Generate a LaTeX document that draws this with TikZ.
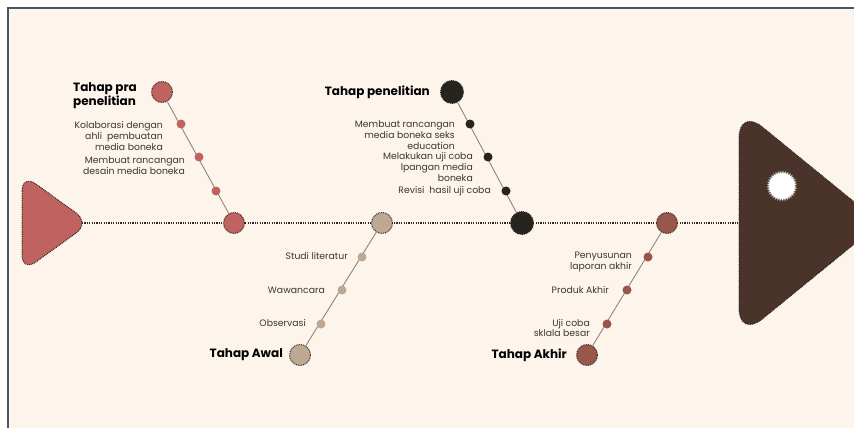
\documentclass[tikz,border=0pt]{standalone}
\usepackage{fontspec}
\setmainfont{Poppins}
\usetikzlibrary{decorations.pathmorphing}
\definecolor{bg}{HTML}{FDF5EC}
\definecolor{frame}{HTML}{4A5568}
\definecolor{cRed}{HTML}{C0625F}
\definecolor{cTan}{HTML}{BFA891}
\definecolor{cBlk}{HTML}{27231F}
\definecolor{cBrn}{HTML}{99564A}
\definecolor{cHead}{HTML}{4A3429}
\definecolor{outl}{HTML}{2B2520}
\definecolor{txt}{HTML}{3A3633}
\definecolor{branch}{HTML}{8C8680}
\tikzset{
  dotline/.style={draw=outl, line width=1pt, dash pattern=on 0.9pt off 0.9pt},
  bigdot/.style={circle, minimum size=#1, inner sep=0pt, dotline},
  smalldot/.style={circle, minimum size=9pt, inner sep=0pt, draw=none},
  lbl/.style={font=\fontsize{9.3}{10.8}\selectfont, text=txt, align=right, inner sep=0pt, anchor=east},
  title/.style={font=\fontsize{12}{12.5}\selectfont\bfseries, text=black, align=left, inner sep=0pt, anchor=east},
  branchline/.style={draw=branch, line width=0.9pt},
}
\begin{document}
\begin{tikzpicture}[x=1pt,y=-1pt]
\useasboundingbox (0,0) rectangle (854,428);
\fill[white] (0,0) rectangle (854,428);
\fill[bg] (8,8) rectangle (854,428);
\draw[frame, line width=2pt] (8,428) -- (8,8.5) -- (854,8.5);

% head and tail
\path[fill=cRed, dotline, rounded corners=17pt] (22,174) -- (22,272) -- (90,223) -- cycle;
\coordinate (tailtip) at (82,223);
\begin{scope}
\clip (0,0) rectangle (854,428);
\path[fill=cHead, dotline, rounded corners=30pt] (739,108) -- (739,338) -- (880,223) -- cycle;
\end{scope}
\coordinate (headl) at (739,223);
\path[fill=white, draw=branch, line width=0.5pt, decorate, decoration={zigzag, segment length=2.4pt, amplitude=1pt}] (782,186) circle (14pt);

% spine
\draw[draw=outl, line width=1.3pt, dash pattern=on 1.2pt off 1.2pt] (tailtip) -- (headl);

% ---- red branch
\node[bigdot=21pt, fill=cRed] (r0) at (234,223) {};
\node[bigdot=21pt, fill=cRed] (r4) at (162,92) {};
\draw[branchline] (r4) -- (r0);
\node[smalldot, fill=cRed] (r1) at (181,124) {};
\node[smalldot, fill=cRed] (r2) at (199,157) {};
\node[smalldot, fill=cRed] (r3) at (216,191) {};
\node[title] (rt) at (137,96) {Tahap pra\\penelitian};
\node[lbl] (rl1) at (163,136) {Kolaborasi dengan\\ahli\ \ pembuatan\\media boneka};
\node[lbl] (rl2) at (185,166) {Membuat rancangan\\desain media boneka};

% ---- black branch
\node[bigdot=23pt, fill=cBlk] (k0) at (522,223) {};
\node[bigdot=23pt, fill=cBlk] (k4) at (452,92) {};
\draw[branchline] (k4) -- (k0);
\node[smalldot, fill=cBlk] (k1) at (470,124) {};
\node[smalldot, fill=cBlk] (k2) at (488,157) {};
\node[smalldot, fill=cBlk] (k3) at (506,191) {};
\node[title] (kt) at (430,92) {Tahap penelitian};
\node[lbl] (kl1) at (455,135) {Membuat rancangan\\media boneka seks\\education};
\node[lbl] (kl2) at (473,167) {Melakukan uji coba\\lpangan media\\boneka};
\node[lbl] (kl3) at (491,191) {Revisi\ \ hasil uji coba};

% ---- tan branch
\node[bigdot=21pt, fill=cTan] (t0) at (382,223) {};
\node[bigdot=21pt, fill=cTan] (t4) at (300,355) {};
\draw[branchline] (t0) -- (t4);
\node[smalldot, fill=cTan] (t1) at (362,257) {};
\node[smalldot, fill=cTan] (t2) at (342,290) {};
\node[smalldot, fill=cTan] (t3) at (321,324) {};
\node[title] (tt) at (283,355) {Tahap Awal};
\node[lbl] (tl1) at (348,256) {Studi literatur};
\node[lbl] (tl2) at (325,290) {Wawancara};
\node[lbl] (tl3) at (306,323) {Observasi};

% ---- brown branch
\node[bigdot=21pt, fill=cBrn] (b0) at (667,223) {};
\node[bigdot=21pt, fill=cBrn] (b4) at (587,355) {};
\draw[branchline] (b0) -- (b4);
\node[smalldot, fill=cBrn] (b1) at (648,257) {};
\node[smalldot, fill=cBrn] (b2) at (627,290) {};
\node[smalldot, fill=cBrn] (b3) at (607,324) {};
\node[title] (bt) at (567,355) {Tahap Akhir};
\node[lbl] (bl1) at (632,262) {Penyusunan\\laporan akhir};
\node[lbl] (bl2) at (609,290) {Produk Akhir};
\node[lbl] (bl3) at (590,328) {Uji coba\\sklala besar};
\end{tikzpicture}
\end{document}
